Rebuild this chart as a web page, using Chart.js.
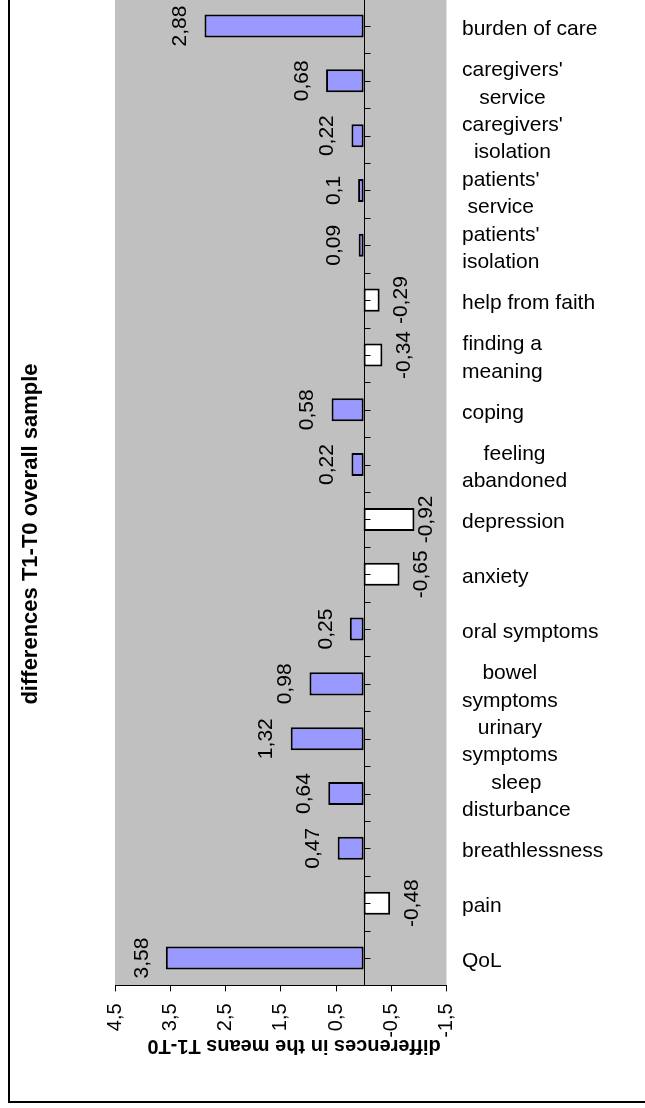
<!DOCTYPE html>
<html>
<head>
<meta charset="utf-8">
<script src="https://cdn.jsdelivr.net/npm/chart.js@4.4.1/dist/chart.umd.min.js"></script>
<style>
  html, body { margin: 0; padding: 0; background: #fff; overflow: hidden; width: 645px; height: 1108px; }
  #frame { position: absolute; left: 8px; top: -40px; width: 700px; height: 1143px; border: 2px solid #000; box-sizing: border-box; background: #fff; }
  #c { display: block; }
</style>
</head>
<body>
<div id="frame"><canvas id="c" width="696" height="1139"></canvas></div>
<script>
// ---- data (top to bottom as in the picture) ----
const categories = [
  'burden of care',
  ["caregivers'", 'service'],
  ["caregivers'", 'isolation'],
  ["patients'", 'service'],
  ["patients'", 'isolation'],
  'help from faith',
  ['finding a', 'meaning'],
  'coping',
  ['feeling', 'abandoned'],
  'depression',
  'anxiety',
  'oral symptoms',
  ['bowel', 'symptoms'],
  ['urinary', 'symptoms'],
  ['sleep', 'disturbance'],
  'breathlessness',
  'pain',
  'QoL'
];
const differences = [2.88, 0.68, 0.22, 0.1, 0.09, -0.29, -0.34, 0.58, 0.22, -0.92, -0.65, 0.25, 0.98, 1.32, 0.64, 0.47, -0.48, 3.58];
const xTickValues = [4.5, 3.5, 2.5, 1.5, 0.5, -0.5, -1.5];
const chartTitle = 'differences T1-T0 overall sample';
const axisTitle = 'differences in the means T1-T0';

const FONT = "'Liberation Sans', Arial, sans-serif";
const fmt = v => String(v).replace('.', ',');

const bgPlugin = {
  id: 'bg',
  beforeDraw(chart) {
    const { ctx, chartArea: a } = chart;
    ctx.save();
    ctx.fillStyle = '#C0C0C0';
    ctx.fillRect(a.left, a.top, a.right - a.left, a.bottom - a.top);
    ctx.restore();
  }
};

const zeroAxisPlugin = {
  id: 'zeroAxis',
  afterDatasetsDraw(chart) {
    const { ctx, chartArea: a } = chart;
    const xs = chart.scales.x, ys = chart.scales.y;
    const x0 = Math.round(xs.getPixelForValue(0)) + 0.5;
    ctx.save();
    ctx.strokeStyle = '#000';
    ctx.lineWidth = 1;
    ctx.beginPath();
    ctx.moveTo(x0, a.top);
    ctx.lineTo(x0, a.bottom);
    for (let k = -0.5; k <= categories.length - 0.5 + 1e-9; k += 0.5) {
      const y = Math.round(ys.getPixelForValue(k)) + 0.5;
      ctx.moveTo(x0, y);
      ctx.lineTo(x0 + 6, y);
    }
    ctx.stroke();

    // data labels
    const meta = chart.getDatasetMeta(0);
    ctx.fillStyle = '#000';
    ctx.font = '21px ' + FONT;
    ctx.textAlign = 'center';
    ctx.textBaseline = 'middle';
    meta.data.forEach((el, i) => {
      const v = differences[i];
      let cx = v >= 0 ? el.x - 24 : Math.min(el.x + 22, a.right - 20);
      ctx.save();
      ctx.translate(cx, el.y);
      ctx.rotate(-Math.PI / 2);
      ctx.fillText(fmt(v), 0, 0);
      ctx.restore();
    });
    ctx.restore();
  }
};

const textPlugin = {
  id: 'texts',
  afterDraw(chart) {
    const { ctx } = chart;
    const ys = chart.scales.y;
    ctx.save();
    ctx.fillStyle = '#000';
    ctx.font = '21px ' + FONT;
    ctx.textAlign = 'center';
    ctx.textBaseline = 'alphabetic';
    const left = 452;
    categories.forEach((c, i) => {
      const lines = Array.isArray(c) ? c : [c];
      const w = Math.max(...lines.map(l => ctx.measureText(l).width));
      const cx = left + w / 2;
      const cy = ys.getPixelForValue(i);
      lines.forEach((l, j) => {
        const y = cy + 9 + (j - (lines.length - 1) / 2) * 27.5;
        ctx.fillText(l, cx, y);
      });
    });
    // upside-down axis title
    ctx.font = 'bold 20px ' + FONT;
    ctx.translate(284, 1078);
    ctx.rotate(Math.PI);
    ctx.fillText(axisTitle, 0, 0);
    ctx.restore();
  }
};

new Chart(document.getElementById('c'), {
  type: 'bar',
  data: {
    labels: categories,
    datasets: [{
      data: differences,
      backgroundColor: differences.map(v => v >= 0 ? '#9999FF' : '#FFFFFF'),
      borderColor: '#000',
      borderWidth: 2,
      borderSkipped: false,
      barPercentage: 0.42,
      categoryPercentage: 1
    }]
  },
  options: {
    indexAxis: 'y',
    responsive: false,
    animation: false,
    layout: { padding: { top: 36.6, bottom: 31.6, left: 0, right: 0 } },
    plugins: {
      legend: { display: false },
      tooltip: { enabled: false },
      title: {
        display: true,
        position: 'left',
        text: chartTitle,
        color: '#000',
        font: { family: FONT, size: 22, weight: 'bold', lineHeight: 1.2 },
        padding: { top: 7.8, bottom: 70.8 }
      }
    },
    scales: {
      x: {
        type: 'linear',
        reverse: true,
        min: -1.5,
        max: 4.5,
        afterBuildTicks(scale) { scale.ticks = xTickValues.map(v => ({ value: v })); },
        afterFit(scale) { scale.height = 84; },
        grid: { display: true, drawOnChartArea: false, drawTicks: true, tickLength: 6, color: '#000', lineWidth: 1 },
        border: { display: true, color: '#000', width: 1 },
        ticks: {
          autoSkip: false,
          minRotation: 90,
          maxRotation: 90,
          padding: 12,
          color: '#000',
          font: { family: FONT, size: 20 },
          callback: v => fmt(v)
        }
      },
      y: {
        type: 'category',
        position: 'right',
        offset: true,
        afterFit(scale) { scale.width = 259.5; },
        grid: { display: false },
        border: { display: false },
        ticks: { display: false }
      }
    }
  },
  plugins: [bgPlugin, zeroAxisPlugin, textPlugin]
});
</script>
</body>
</html>
